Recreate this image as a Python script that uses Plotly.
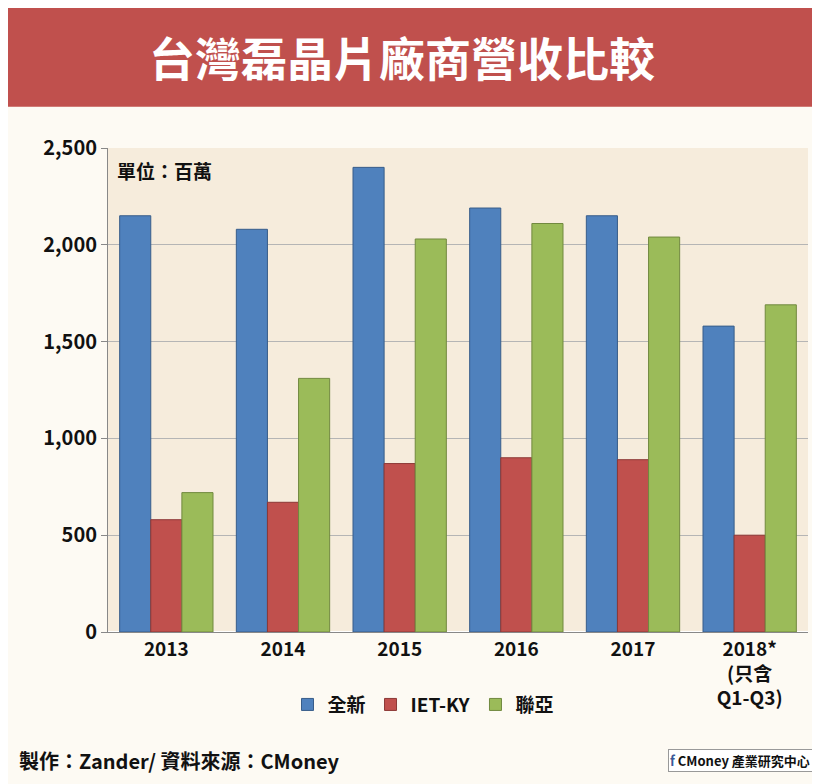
import plotly.graph_objects as go

years = ["2013", "2014", "2015", "2016", "2017", "2018*<br>(只含<br>Q1-Q3)"]
quanxin = [2150, 2080, 2400, 2190, 2150, 1580]
iet = [580, 670, 870, 900, 890, 500]
lianya = [720, 1310, 2030, 2110, 2040, 1690]

font = "Noto Sans CJK TC"
fig = go.Figure()
fig.add_bar(x=years, y=quanxin, name="全新", marker=dict(color="#4f81bd", line=dict(color="#385d8a", width=1)))
fig.add_bar(x=years, y=iet, name="IET-KY", marker=dict(color="#c0504d", line=dict(color="#8c3836", width=1)))
fig.add_bar(x=years, y=lianya, name="聯亞", marker=dict(color="#9bbb59", line=dict(color="#71893f", width=1)))

fig.update_layout(
    width=820, height=784,
    paper_bgcolor="#fdfaf3",
    plot_bgcolor="#f6ecdc",
    font=dict(family=font, size=17, color="#111"),
    margin=dict(l=100, r=20, t=140, b=160),
    bargap=0.2, bargroupgap=0.0,
    legend=dict(orientation="h", x=0.45, y=-0.15, xanchor="center", yanchor="middle",
                font=dict(size=19, family=font, weight="bold"), bgcolor="rgba(0,0,0,0)"),
    xaxis=dict(tickfont=dict(size=19, family=font, weight="bold"), showline=True, linecolor="#888", ticks=""),
    yaxis=dict(range=[0, 2500], dtick=500, tickformat=",", gridcolor="#b5b5b5",
               tickfont=dict(size=20, family=font, weight="bold"), showline=True, linecolor="#888",
               ticks="outside", ticklen=6, tickcolor="#888"),
    shapes=[dict(type="rect", xref="paper", yref="paper", x0=-0.2, x1=1.1, y0=1.085, y1=1.35,
                 fillcolor="#c0504d", line=dict(width=0), layer="below")],
    annotations=[
        dict(text="<b>台灣磊晶片廠商營收比較</b>", xref="paper", yref="paper", x=0.42, y=1.19,
             showarrow=False, font=dict(size=46, color="white", family=font), xanchor="center", yanchor="middle"),
        dict(text="<b>單位：百萬</b>", xref="paper", yref="paper", x=0.01, y=0.985, showarrow=False,
             xanchor="left", yanchor="top", font=dict(size=19, family=font)),
        dict(text="<b>製作：Zander/ 資料來源：CMoney</b>", xref="paper", yref="paper", x=-0.13, y=-0.265,
             showarrow=False, xanchor="left", yanchor="middle", font=dict(size=20, family=font)),
        dict(text="<b><span style='color:#3b5998'>f</span> CMoney 產業研究中心 ⌕</b>", xref="paper", yref="paper",
             x=1.02, y=-0.265, showarrow=False, xanchor="right", yanchor="middle",
             font=dict(size=13, family=font), bordercolor="#999", borderwidth=1, bgcolor="white"),
    ],
)
fig.write_html("out.html")
